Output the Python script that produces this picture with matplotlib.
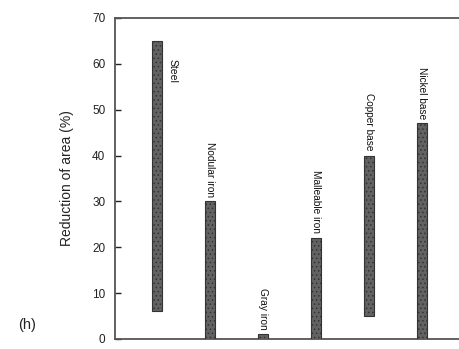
import matplotlib
matplotlib.use("Agg")
import matplotlib.pyplot as plt

plt.rcParams['font.family'] = ['Liberation Sans', 'DejaVu Sans']
plt.rcParams['hatch.color'] = '#b0b0b0'
plt.rcParams['hatch.linewidth'] = 0.6

materials = ["Steel", "Nodular iron", "Gray iron", "Malleable iron", "Copper base", "Nickel base"]
low = [6, 0, 0, 0, 5, 0]
high = [65, 30, 1, 22, 40, 47]
yticks = [0, 10, 20, 30, 40, 50, 60, 70]

fig = plt.figure(figsize=(4.59, 3.49), dpi=100)
ax = fig.add_axes([0.2505, 0.0287, 0.784, 0.92])

pos = list(range(len(materials)))
heights = [h - l for h, l in zip(high, low)]
ax.bar(pos, heights, bottom=low, width=0.2, color='#626262', edgecolor='#333333',
       linewidth=0.8, hatch='....', zorder=3)

for i, (name, l, h) in enumerate(zip(materials, low, high)):
    if i == 0:
        ax.text(i + 0.29, 61, name, rotation=270, ha='center', va='top',
                fontsize=7.5, color='#111')
    else:
        ax.text(i, h + 1.0, name, rotation=270, ha='center', va='bottom',
                fontsize=7.3, color='#111')

ax.set_xlim(-0.79, 6.0)
ax.set_ylim(0, 70)
ax.set_yticks(yticks)
ax.set_xticks([])
ax.tick_params(axis='y', direction='in', length=4, width=1, labelsize=8.5,
               colors='#222', pad=7)
for s in ['left', 'bottom', 'top']:
    ax.spines[s].set_linewidth(1.3)
    ax.spines[s].set_color('#555')
ax.spines['right'].set_visible(False)
ax.set_ylabel("Reduction of area (%)", fontsize=10, color='#222', labelpad=13)

fig.text(0.058, 0.068, "(h)", fontsize=10.5, color='#222', ha='center', va='center')

fig.savefig("out.png", dpi=100)
